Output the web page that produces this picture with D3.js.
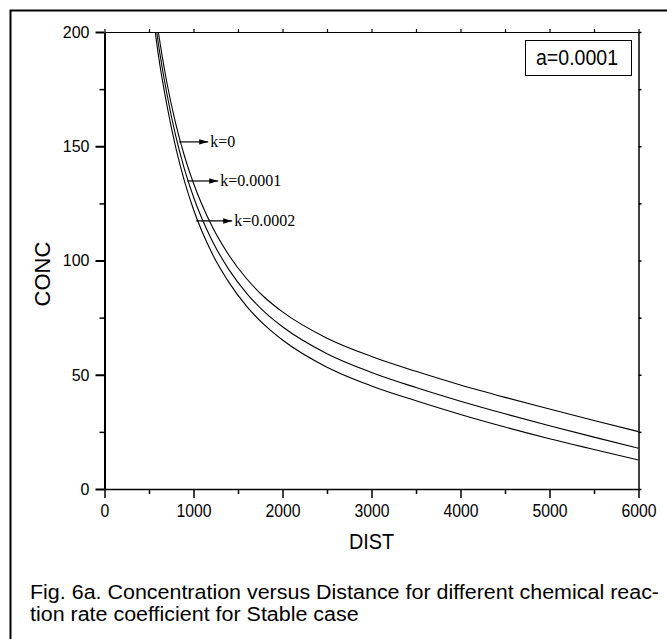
<!DOCTYPE html>
<html><head><meta charset="utf-8">
<script src="https://cdn.jsdelivr.net/npm/d3@7"></script>
<style>body{margin:0;background:#fff}svg{display:block}</style>
</head><body>
<svg id="chart" width="667" height="639"></svg>
<script>
// ---- data ----
const dist   = [550, 600, 700, 800, 900, 1000, 1200, 1400, 1600, 1800, 2000, 2500, 3000, 3500, 4000, 4500, 5000, 5500, 6000];
const concK0 = [215.8, 201.3, 178.0, 159.9, 145.5, 133.8, 115.6, 102.2, 91.9, 83.8, 77.5, 66.0, 58.0, 51.5, 45.5, 40.1, 35.0, 30.0, 25.1];
const concK1 = [210.8, 196.3, 173.2, 154.5, 139.8, 127.8, 109.4, 95.9, 85.5, 77.4, 71.0, 59.2, 51.0, 44.4, 38.4, 32.9, 27.7, 22.7, 17.8];
const concK2 = [205.8, 191.3, 168.2, 149.5, 134.5, 122.3, 103.8, 90.3, 79.8, 71.7, 65.2, 53.3, 45.1, 38.6, 32.6, 27.1, 22.0, 17.3, 12.7];
const seriesNames = ["k=0", "k=0.0001", "k=0.0002"];
const labelStartDist = [839, 929, 1030];
const labelEndDist   = [1165, 1278, 1435];
const labelConc      = [151.9, 134.8, 117.3];
const xMajorTicks = [0, 1000, 2000, 3000, 4000, 5000, 6000];
const xMinorTicks = [500, 1500, 2500, 3500, 4500, 5500];
const yMajorTicks = [0, 50, 100, 150, 200];
const yMinorTicks = [25, 75, 125, 175];
const legendText = "a=0.0001";
const xTitle = "DIST", yTitle = "CONC";
const captionLines = ["Fig. 6a. Concentration versus Distance for different chemical reac-",
                      "tion rate coefficient for Stable case"];

const svg = d3.select("#chart");
const SANS = "'Liberation Sans', Arial, sans-serif";
const SERIF = "'Liberation Serif', 'Times New Roman', serif";

// outer frame (continues past right/bottom edge)
svg.append("rect").attr("x", 10.5).attr("y", 10.5).attr("width", 800).attr("height", 800)
  .attr("fill", "none").attr("stroke", "#000").attr("stroke-width", 2);

const x = d3.scaleLinear().domain([0, 6000]).range([104.5, 638.5]);
const y = d3.scaleLinear().domain([0, 200]).range([489, 32]);

function compress(sel, factor) {
  sel.each(function () {
    const w = this.getComputedTextLength();
    d3.select(this).attr("textLength", w * factor).attr("lengthAdjust", "spacingAndGlyphs");
  });
}

// clip
svg.append("clipPath").attr("id", "plotclip").append("rect")
  .attr("x", x(0)).attr("y", y(200)).attr("width", x(6000) - x(0)).attr("height", y(0) - y(200));

// curves
const series = [concK0, concK1, concK2];
const line = d3.line().x((d, i) => x(dist[i])).y(d => y(d)).curve(d3.curveMonotoneX);
svg.append("g").attr("clip-path", "url(#plotclip)")
  .selectAll("path").data(series).join("path")
  .attr("d", d => line(d)).attr("fill", "none").attr("stroke", "#000").attr("stroke-width", 1.1);

// axes
function styleAxis(g, width) {
  g.selectAll(".domain").attr("stroke", "#000").attr("stroke-width", width);
  g.selectAll(".tick line").attr("stroke", "#000").attr("stroke-width", width);
}
// bottom
const gxMinor = svg.append("g").attr("transform", `translate(0,${y(0)})`)
  .call(d3.axisBottom(x).tickValues(xMinorTicks).tickSize(5).tickFormat(""));
gxMinor.select(".domain").remove(); styleAxis(gxMinor, 1.5);
const gx = svg.append("g").attr("transform", `translate(0,${y(0)})`)
  .call(d3.axisBottom(x).tickValues(xMajorTicks).tickSize(9).tickSizeOuter(0).tickPadding(6).tickFormat(d3.format("d")));
styleAxis(gx, 1.5);
gx.selectAll("text").attr("font-family", SANS).attr("font-size", 18).attr("fill", "#000").call(compress, 0.875);
// left
const gyMinor = svg.append("g").attr("transform", `translate(${x(0)},0)`)
  .call(d3.axisLeft(y).tickValues(yMinorTicks).tickSize(5).tickFormat(""));
gyMinor.select(".domain").remove(); styleAxis(gyMinor, 1.5);
const gy = svg.append("g").attr("transform", `translate(${x(0)},0)`)
  .call(d3.axisLeft(y).tickValues(yMajorTicks).tickSize(9).tickSizeOuter(0).tickPadding(6).tickFormat(d3.format("d")));
styleAxis(gy, 2);
gy.selectAll("text").attr("font-family", SANS).attr("font-size", 17).attr("fill", "#000").call(compress, 0.94);
// top
const gt = svg.append("g").attr("transform", `translate(0,${y(200)})`)
  .call(d3.axisTop(x).tickValues(xMajorTicks.concat(xMinorTicks)).tickSize(3).tickSizeOuter(0).tickFormat(""));
styleAxis(gt, 1.2);
// right
const gr = svg.append("g").attr("transform", `translate(${x(6000)},0)`)
  .call(d3.axisRight(y).tickValues(yMajorTicks.concat(yMinorTicks)).tickSize(3).tickSizeOuter(0).tickFormat(""));
styleAxis(gr, 1.5);

// axis titles
svg.append("text").attr("x", (x(0) + x(6000)) / 2).attr("y", 549).attr("text-anchor", "middle")
  .attr("font-family", SANS).attr("font-size", 22).text(xTitle).call(compress, 0.9);
svg.append("text").attr("transform", "translate(50,274) rotate(-90)").attr("text-anchor", "middle")
  .attr("font-family", SANS).attr("font-size", 22).text(yTitle);

// legend box
svg.append("rect").attr("x", 525.5).attr("y", 40.5).attr("width", 106).attr("height", 35)
  .attr("fill", "#fff").attr("stroke", "#000").attr("stroke-width", 1);
svg.append("text").attr("x", 536).attr("y", 65).attr("font-family", SANS).attr("font-size", 22)
  .text(legendText).attr("textLength", 82).attr("lengthAdjust", "spacingAndGlyphs");

// arrows & labels
const defs = svg.append("defs");
defs.append("marker").attr("id", "arrowhead").attr("viewBox", "0 0 10 6").attr("refX", 10).attr("refY", 3)
  .attr("markerWidth", 9).attr("markerHeight", 5.5).attr("markerUnits", "userSpaceOnUse").attr("orient", "auto")
  .append("path").attr("d", "M0,0 L10,3 L0,6 Z").attr("fill", "#000");
const ann = svg.append("g");
seriesNames.forEach((name, i) => {
  ann.append("line").attr("x1", x(labelStartDist[i])).attr("x2", x(labelEndDist[i]))
    .attr("y1", y(labelConc[i])).attr("y2", y(labelConc[i]))
    .attr("stroke", "#000").attr("stroke-width", 1.2).attr("marker-end", "url(#arrowhead)");
  ann.append("text").attr("x", x(labelEndDist[i]) + 2).attr("y", y(labelConc[i]) + 5)
    .attr("font-family", SERIF).attr("font-size", 16).text(name);
});

// caption
const cap = svg.append("g").attr("font-family", SANS).attr("font-size", 19.5).attr("fill", "#000");
const c1 = cap.append("text").attr("x", 30).attr("y", 599).text(captionLines[0]);
const nat1 = c1.node().getComputedTextLength();
const factor = (659 - 30) / nat1;
c1.attr("textLength", nat1 * factor).attr("lengthAdjust", "spacingAndGlyphs");
const c2 = cap.append("text").attr("x", 30).attr("y", 621).text(captionLines[1]);
c2.attr("textLength", c2.node().getComputedTextLength() * factor).attr("lengthAdjust", "spacingAndGlyphs");
</script>
</body></html>
